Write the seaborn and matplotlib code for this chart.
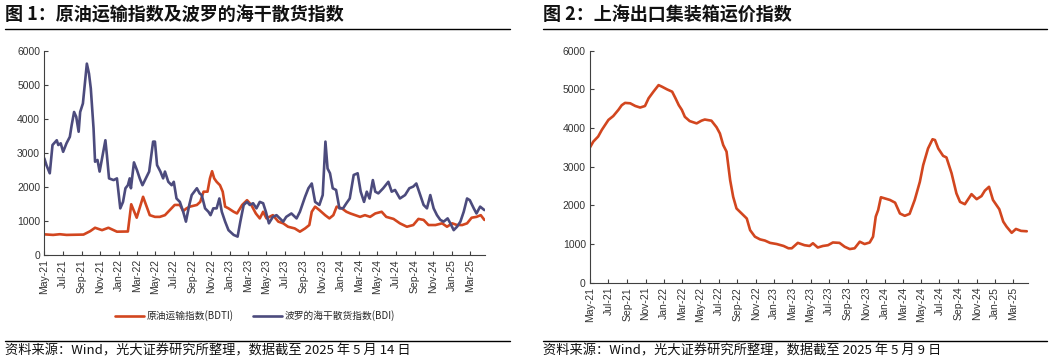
import pandas as pd
import matplotlib
matplotlib.use("Agg")
import matplotlib.pyplot as plt
import matplotlib.dates as mdates
from matplotlib.lines import Line2D
import seaborn as sns

# 数据
bdti_dates = ['2021-05-01', '2021-05-30', '2021-06-21', '2021-07-13', '2021-09-07', '2021-09-29',
              '2021-10-15', '2021-11-07', '2021-11-28', '2021-12-26', '2022-01-31', '2022-02-11',
              '2022-03-01', '2022-03-22', '2022-04-13', '2022-04-30', '2022-05-16', '2022-06-02',
              '2022-06-18', '2022-07-04', '2022-07-21', '2022-08-01', '2022-08-12', '2022-08-23',
              '2022-09-15', '2022-09-26', '2022-10-07', '2022-10-20', '2022-10-28', '2022-11-04',
              '2022-11-11', '2022-11-19', '2022-11-30', '2022-12-09', '2022-12-17', '2022-12-28',
              '2023-01-14', '2023-01-25', '2023-02-11', '2023-02-27', '2023-03-13', '2023-03-28',
              '2023-04-10', '2023-04-21', '2023-05-02', '2023-05-23', '2023-06-10', '2023-06-26',
              '2023-07-12', '2023-08-03', '2023-08-20', '2023-09-06', '2023-09-20', '2023-09-28',
              '2023-10-09', '2023-10-23', '2023-11-11', '2023-11-25', '2023-12-08', '2023-12-19',
              '2024-01-05', '2024-01-20', '2024-02-02', '2024-02-18', '2024-03-05', '2024-03-21',
              '2024-04-07', '2024-04-24', '2024-05-15', '2024-05-30', '2024-06-23', '2024-07-14',
              '2024-08-06', '2024-08-27', '2024-09-13', '2024-09-30', '2024-10-16', '2024-11-08',
              '2024-11-30', '2024-12-16', '2025-01-02', '2025-01-18', '2025-02-04', '2025-02-20',
              '2025-03-07', '2025-03-23', '2025-04-06', '2025-04-18']
bdti_vals = [606, 590, 610, 590, 600, 700,
             800, 730, 800, 685, 690, 1490,
             1095, 1710, 1170, 1120, 1120, 1170,
             1320, 1470, 1470, 1290, 1370, 1420,
             1470, 1560, 1860, 1860, 2250, 2460,
             2250, 2150, 2050, 1860, 1420, 1370,
             1270, 1220, 1470, 1610, 1470, 1220,
             1075, 1270, 1075, 1170, 980, 930,
             830, 780, 685, 780, 880, 1270,
             1420, 1320, 1170, 1075, 1170, 1420,
             1370, 1270, 1220, 1170, 1120, 1170,
             1120, 1220, 1270, 1120, 1060, 930,
             830, 880, 1060, 1030, 880, 880,
             930, 830, 930, 880, 880, 930,
             1095, 1120, 1170, 1030]

bdi_dates = ['2021-05-01', '2021-05-08', '2021-05-19', '2021-05-28', '2021-06-11', '2021-06-16',
             '2021-06-24', '2021-07-02', '2021-07-13', '2021-07-24', '2021-07-30', '2021-08-07',
             '2021-08-14', '2021-08-22', '2021-08-27', '2021-09-05', '2021-09-11', '2021-09-18',
             '2021-09-25', '2021-10-01', '2021-10-10', '2021-10-15', '2021-10-23', '2021-10-30',
             '2021-11-07', '2021-11-18', '2021-11-23', '2021-11-30', '2021-12-15', '2021-12-26',
             '2022-01-06', '2022-01-15', '2022-01-23', '2022-01-31', '2022-02-06', '2022-02-10',
             '2022-02-20', '2022-03-02', '2022-03-11', '2022-03-20', '2022-03-31', '2022-04-11',
             '2022-04-24', '2022-04-30', '2022-05-07', '2022-05-18', '2022-05-27', '2022-06-02',
             '2022-06-13', '2022-06-24', '2022-07-01', '2022-07-10', '2022-07-21', '2022-08-01',
             '2022-08-10', '2022-08-21', '2022-08-29', '2022-09-15', '2022-09-24', '2022-10-01',
             '2022-10-12', '2022-10-23', '2022-10-30', '2022-11-08', '2022-11-19', '2022-11-28',
             '2022-12-06', '2022-12-17', '2022-12-28', '2023-01-14', '2023-01-27', '2023-02-05',
             '2023-02-16', '2023-02-27', '2023-03-08', '2023-03-19', '2023-03-30', '2023-04-10',
             '2023-04-21', '2023-04-30', '2023-05-10', '2023-05-23', '2023-06-04', '2023-06-15',
             '2023-06-26', '2023-07-06', '2023-07-23', '2023-08-09', '2023-08-20', '2023-09-06',
             '2023-09-17', '2023-09-28', '2023-10-09', '2023-10-23', '2023-11-03', '2023-11-12',
             '2023-11-19', '2023-11-27', '2023-12-06', '2023-12-17', '2023-12-28', '2024-01-09',
             '2024-01-20', '2024-01-31', '2024-02-13', '2024-02-26', '2024-03-07', '2024-03-18',
             '2024-03-27', '2024-04-05', '2024-04-16', '2024-04-24', '2024-05-04', '2024-05-20',
             '2024-06-06', '2024-06-17', '2024-06-28', '2024-07-14', '2024-07-31', '2024-08-14',
             '2024-08-27', '2024-09-06', '2024-09-19', '2024-09-30', '2024-10-11', '2024-10-22',
             '2024-11-02', '2024-11-13', '2024-11-24', '2024-12-05', '2024-12-18', '2024-12-27',
             '2025-01-07', '2025-01-18', '2025-01-29', '2025-02-09', '2025-02-20', '2025-03-01',
             '2025-03-14', '2025-03-23', '2025-04-04', '2025-04-18']
bdi_vals = [2840, 2640, 2400, 3230, 3370, 3230,
            3280, 3030, 3280, 3470, 3810, 4200,
            4060, 3620, 4200, 4450, 4990, 5620,
            5330, 4890, 3720, 2740, 2790, 2450,
            2840, 3370, 2930, 2250, 2200, 2250,
            1370, 1560, 1960, 2050, 2250, 1960,
            2720, 2490, 2250, 2050, 2250, 2450,
            3330, 3330, 2640, 2450, 2250, 2450,
            2150, 2050, 2150, 1660, 1560, 1270,
            980, 1470, 1760, 1960, 1810, 1760,
            1370, 1270, 1170, 1370, 1370, 1660,
            1270, 980, 730, 590, 540, 980,
            1470, 1560, 1470, 1520, 1370, 1560,
            1520, 1270, 930, 1120, 1170, 1075,
            980, 1120, 1220, 1075, 1270, 1710,
            1960, 2100, 1560, 1470, 1760, 3330,
            2540, 2400, 1960, 1910, 1370, 1370,
            1520, 1660, 2350, 2400, 1860, 1560,
            1860, 1660, 2200, 1860, 1810, 1960,
            2150, 1860, 1910, 1660, 1760, 1960,
            2010, 2100, 1760, 1470, 1370, 1760,
            1370, 1170, 1030, 980, 1075, 930,
            730, 830, 980, 1270, 1660, 1610,
            1370, 1220, 1420, 1320]

scfi_dates = ['2021-05-01', '2021-05-12', '2021-05-28', '2021-06-09', '2021-06-20', '2021-07-01',
              '2021-07-17', '2021-08-03', '2021-08-14', '2021-08-25', '2021-09-11', '2021-09-28',
              '2021-10-14', '2021-10-30', '2021-11-11', '2021-11-27', '2021-12-14', '2021-12-25',
              '2022-01-11', '2022-01-28', '2022-02-08', '2022-02-19', '2022-03-01', '2022-03-11',
              '2022-03-27', '2022-04-19', '2022-05-05', '2022-05-16', '2022-06-07', '2022-06-24',
              '2022-07-05', '2022-07-16', '2022-07-27', '2022-08-08', '2022-08-18', '2022-08-29',
              '2022-09-15', '2022-10-02', '2022-10-13', '2022-10-29', '2022-11-15', '2022-12-01',
              '2022-12-18', '2023-01-09', '2023-02-01', '2023-02-17', '2023-02-28', '2023-03-20',
              '2023-04-11', '2023-04-28', '2023-05-09', '2023-05-25', '2023-06-11', '2023-06-28',
              '2023-07-14', '2023-08-05', '2023-08-22', '2023-09-08', '2023-09-24', '2023-10-11',
              '2023-10-27', '2023-11-13', '2023-11-24', '2023-12-03', '2023-12-11', '2023-12-20',
              '2024-01-02', '2024-01-19', '2024-02-05', '2024-02-21', '2024-03-08', '2024-03-24',
              '2024-04-10', '2024-04-27', '2024-05-08', '2024-05-24', '2024-06-08', '2024-06-16',
              '2024-06-27', '2024-07-13', '2024-07-24', '2024-08-10', '2024-08-26', '2024-09-07',
              '2024-09-23', '2024-10-15', '2024-11-01', '2024-11-17', '2024-11-28', '2024-12-12',
              '2024-12-25', '2025-01-15', '2025-01-28', '2025-02-08', '2025-02-25', '2025-03-11',
              '2025-03-28', '2025-04-16']
scfi_vals = [3500, 3650, 3780, 3950, 4080, 4210,
             4310, 4470, 4590, 4650, 4640, 4570,
             4530, 4570, 4770, 4940, 5110, 5070,
             5000, 4940, 4770, 4590, 4470, 4290,
             4180, 4120, 4190, 4220, 4190, 4020,
             3860, 3560, 3390, 2650, 2220, 1920,
             1790, 1660, 1360, 1190, 1120, 1090,
             1030, 1000, 950, 890, 890, 1030,
             970, 950, 1020, 910, 950, 970,
             1040, 1030, 930, 870, 890, 1060,
             1000, 1040, 1190, 1710, 1880, 2210,
             2180, 2140, 2070, 1790, 1730, 1780,
             2140, 2610, 3040, 3470, 3710, 3690,
             3470, 3280, 3240, 2830, 2310, 2090,
             2030, 2290, 2160, 2240, 2380, 2480,
             2140, 1900, 1580, 1450, 1290, 1390,
             1340, 1330]

# 样式
sns.set_style("ticks")
plt.rcParams['font.family'] = ['Liberation Sans', 'Noto Sans CJK SC', 'DejaVu Sans']
cjk = ['Noto Sans CJK SC', 'DejaVu Sans']

RED = '#D2461F'
BLUE = '#4C4B7D'
W, H = 1054, 361

fig = plt.figure(figsize=(W / 100, H / 100), dpi=100)


def ax_rect(x0, x1, ytop, ybot):
    return [x0 / W, 1 - ybot / H, (x1 - x0) / W, (ybot - ytop) / H]


def hline(x0, x1, y):
    fig.add_artist(Line2D([x0 / W, x1 / W], [1 - y / H, 1 - y / H],
                          transform=fig.transFigure, color='black', lw=1.0))


def style_axis(ax):
    ax.set_ylim(0, 6000)
    ax.set_yticks(range(0, 6001, 1000))
    ax.set_xlim(pd.Timestamp('2021-05-01'), pd.Timestamp('2025-04-20'))
    ax.xaxis.set_major_locator(mdates.MonthLocator(bymonth=[1, 3, 5, 7, 9, 11]))
    ax.xaxis.set_major_formatter(mdates.DateFormatter('%b-%y'))
    ax.tick_params(axis='both', direction='in', length=3, width=0.8, color='#404040',
                   labelsize=7.5, labelcolor='#333333', pad=3)
    ax.tick_params(axis='x', rotation=90)
    for s in ['top', 'right']:
        ax.spines[s].set_visible(False)
    for s in ['left', 'bottom']:
        ax.spines[s].set_color('#404040')
        ax.spines[s].set_linewidth(0.8)
    ax.set_xlabel('')
    ax.set_ylabel('')
    ax.grid(False)


# 图1
ax1 = fig.add_axes(ax_rect(44.3, 485, 50.7, 255))
df1 = pd.DataFrame({'date': pd.to_datetime(bdti_dates), 'v': bdti_vals})
df2 = pd.DataFrame({'date': pd.to_datetime(bdi_dates), 'v': bdi_vals})
sns.lineplot(data=df1, x='date', y='v', ax=ax1, color=RED, lw=1.9, label='原油运输指数(BDTI)')
sns.lineplot(data=df2, x='date', y='v', ax=ax1, color=BLUE, lw=1.9, label='波罗的海干散货指数(BDI)')
style_axis(ax1)
h, l = ax1.get_legend_handles_labels()
ax1.get_legend().remove()
fig.legend(h, l, loc='center', bbox_to_anchor=(255 / W, 1 - 316 / H), ncol=2, frameon=False,
           prop={'family': cjk, 'size': 7}, handlelength=3.0, columnspacing=2.0, handletextpad=0.3)

# 图2
ax2 = fig.add_axes(ax_rect(590, 1028, 50.7, 282.7))
df3 = pd.DataFrame({'date': pd.to_datetime(scfi_dates), 'v': scfi_vals})
sns.lineplot(data=df3, x='date', y='v', ax=ax2, color=RED, lw=1.9, legend=False)
style_axis(ax2)

# 标题与来源
fig.text(5 / W, 1 - 15 / H, '图 1：原油运输指数及波罗的海干散货指数', family=cjk, fontsize=13,
         fontweight='bold', va='center', ha='left', color='#111111')
fig.text(543 / W, 1 - 15 / H, '图 2：上海出口集装箱运价指数', family=cjk, fontsize=13,
         fontweight='bold', va='center', ha='left', color='#111111')
hline(5, 510, 28.5)
hline(543, 1047, 28.5)
hline(5, 510, 340.5)
hline(543, 1047, 340.5)
fig.text(5 / W, 1 - 351 / H, '资料来源：Wind，光大证券研究所整理，数据截至 2025 年 5 月 14 日', family=cjk,
         fontsize=9.5, va='center', ha='left', color='#111111')
fig.text(543 / W, 1 - 351 / H, '资料来源：Wind，光大证券研究所整理，数据截至 2025 年 5 月 9 日', family=cjk,
         fontsize=9.5, va='center', ha='left', color='#111111')

fig.savefig('out.png', dpi=100)
